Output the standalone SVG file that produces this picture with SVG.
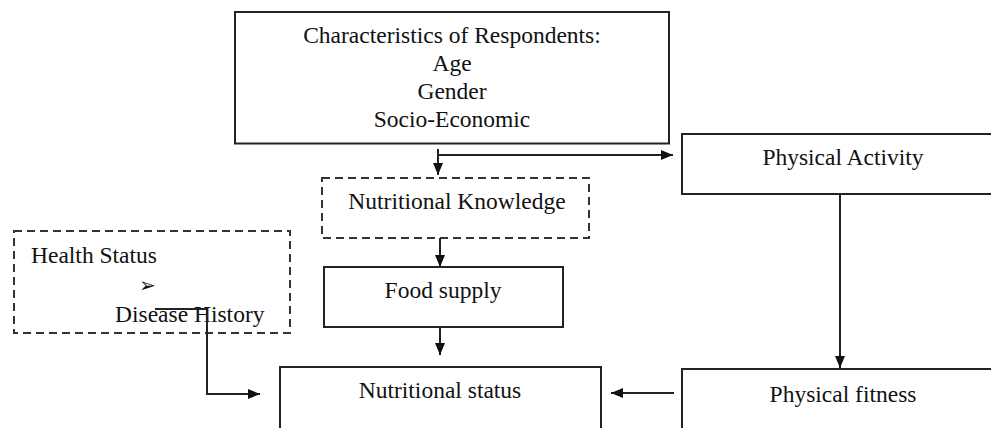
<svg xmlns="http://www.w3.org/2000/svg" width="991" height="428" viewBox="0 0 991 428">
<style>
.box{fill:#fff;stroke:#222;stroke-width:2}
.dash{fill:#fff;stroke:#333;stroke-width:2;stroke-dasharray:8 5}
.t{font-family:"Liberation Serif","Times New Roman",serif;font-size:23.5px;fill:#111}
.c{text-anchor:middle}
.ln{fill:none;stroke:#222;stroke-width:2}
</style>
<defs>
<marker id="ah" viewBox="0 0 12 10" refX="12" refY="5" markerWidth="12" markerHeight="10" markerUnits="userSpaceOnUse" orient="auto">
<path d="M0,0 L12,5 L0,10 Z" fill="#111"/>
</marker>
</defs>
<rect width="991" height="428" fill="#fff"/>
<g id="characteristics">
<rect class="box" x="235" y="12" width="434" height="131.5"/>
<text class="t c" x="452" y="43">Characteristics of Respondents:</text>
<text class="t c" x="452" y="71">Age</text>
<text class="t c" x="452" y="99">Gender</text>
<text class="t c" x="452" y="127">Socio-Economic</text>
</g>
<g id="physical-activity">
<rect class="box" x="682" y="134" width="320" height="60"/>
<text class="t c" x="843" y="165">Physical Activity</text>
</g>
<g id="nutritional-knowledge">
<rect class="dash" x="322" y="178" width="267" height="60"/>
<text class="t c" x="457" y="209">Nutritional Knowledge</text>
</g>
<g id="health-status">
<rect class="dash" x="14" y="231" width="276" height="102"/>
<text class="t" x="31" y="263">Health Status</text>
<text x="139" y="292" style="font-family:'DejaVu Sans',sans-serif;font-size:20px;fill:#111">➢</text>
<text class="t" x="115" y="322">Disease History</text>
</g>
<g id="food-supply">
<rect class="box" x="324" y="267" width="239" height="60"/>
<text class="t c" x="443" y="298">Food supply</text>
</g>
<g id="nutritional-status">
<rect class="box" x="280" y="367" width="321" height="62"/>
<text class="t c" x="440" y="398">Nutritional status</text>
</g>
<g id="physical-fitness">
<rect class="box" x="682" y="369" width="320" height="62"/>
<text class="t c" x="843" y="402">Physical fitness</text>
</g>
<g id="connectors">
<path class="ln" d="M438,149 V175" marker-end="url(#ah)"/>
<path class="ln" d="M438,155 H673" marker-end="url(#ah)"/>
<path class="ln" d="M440,238 V267" marker-end="url(#ah)"/>
<path class="ln" d="M440,327 V355" marker-end="url(#ah)"/>
<path class="ln" d="M840,194 V368" marker-end="url(#ah)"/>
<path class="ln" d="M674,393 H611" marker-end="url(#ah)"/>
<path class="ln" d="M155,309 H207 V394 H260" marker-end="url(#ah)"/>
</g>
</svg>
